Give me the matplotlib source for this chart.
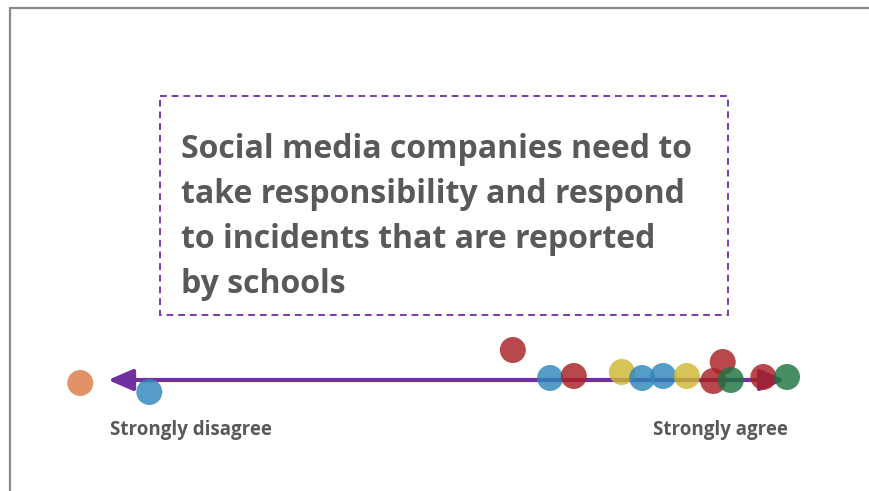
import matplotlib
matplotlib.use("Agg")
import matplotlib.pyplot as plt
from matplotlib.patches import Rectangle

# ---- data -----------------------------------------------------------
# agreement score on a 0 (strongly disagree) .. 100 (strongly agree) scale
scores = [-4.1, 6.1, 59.8, 65.3, 68.8, 75.9, 78.9, 82.0, 85.5, 89.4, 90.8, 92.0, 96.8, 100.3]
# vertical jitter (pixels below the axis line; negative = above)
jitter = [3, 12, -30, -2, -4, -8, -2, -4, -4, 1, -18, 0, -3, -3]
groups = ["orange", "blue", "red", "blue", "red", "yellow", "blue", "blue",
          "yellow", "red", "red", "green", "red", "green"]
palette = {"orange": "#DD7A45", "blue": "#2F86BA", "red": "#A82024",
           "yellow": "#CDB731", "green": "#1E7440"}
title_lines = ["Social media companies need to",
               "take responsibility and respond",
               "to incidents that are reported",
               "by schools"]
left_label = "Strongly disagree"
right_label = "Strongly agree"

# ---- figure ---------------------------------------------------------
W, H = 870, 491
fig = plt.figure(figsize=(W / 100, H / 100), dpi=100)
ax = fig.add_axes([0, 0, 1, 1])
px_per_unit = (785 - 108) / 100.0
x0 = 108
ax.set_xlim(-x0 / px_per_unit, (W - x0) / px_per_unit)
ax.set_ylim(H, 0)
ax.axis("off")

def px(xpix):
    return (xpix - x0) / px_per_unit

# slide frame
ax.plot([px(10), px(10), px(W)], [H, 8, 8], color="#8a8a8a", lw=1.6,
        solid_capstyle="butt", zorder=0)

# dashed title box
box = Rectangle((px(160), 96), px(728) - px(160), 315 - 96, fill=False,
                edgecolor="#7A3AB0", lw=1.4, linestyle=(0, (3.5, 2.5)), zorder=1)
ax.add_patch(box)
for i, line in enumerate(title_lines):
    ax.text(px(181), 158 + 45 * i, line, ha="left", va="baseline",
            fontsize=23, fontweight="bold", family="Open Sans", color="#595959",
            zorder=2)

# axis arrow
line_y = 380
ax.annotate("", xy=(0, line_y), xytext=(100, line_y),
            arrowprops=dict(arrowstyle="<|-|>,head_length=1.5,head_width=0.65",
                            color="#7030A0", lw=3, shrinkA=0, shrinkB=0),
            zorder=2)

# points
ax.scatter(scores, [line_y + j for j in jitter], s=350,
           c=[palette[g] for g in groups], alpha=0.82, linewidths=0, zorder=3)

ax.text(px(191), 430, left_label, ha="center", va="center", fontsize=13.5,
        fontweight="bold", family="Open Sans", color="#595959")
ax.text(px(720), 430, right_label, ha="center", va="center", fontsize=13.5,
        fontweight="bold", family="Open Sans", color="#595959")

fig.savefig("out.png", dpi=100, facecolor="white")
